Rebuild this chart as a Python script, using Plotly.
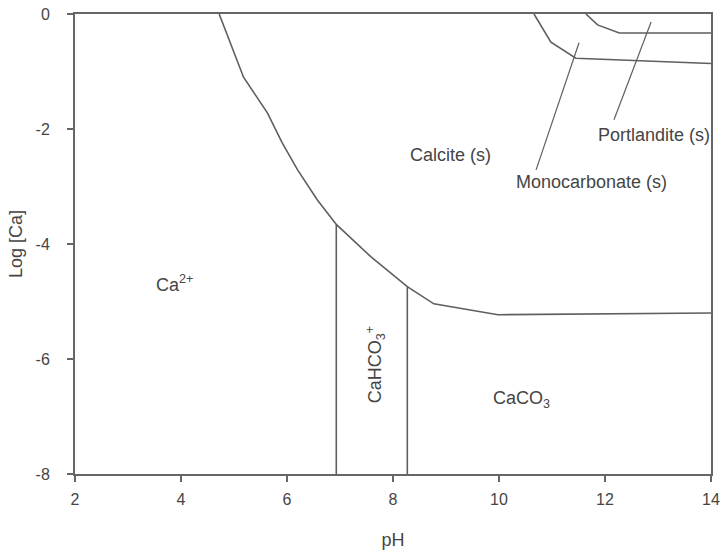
import plotly.graph_objects as go

# Predominance / solubility boundaries for Ca (pH vs log[Ca])
calcite_ph = [4.72, 4.99, 5.18, 5.63, 5.91, 6.20, 6.57, 6.93, 7.58, 8.27, 8.77, 9.98, 14.0]
calcite_logca = [0.0, -0.63, -1.10, -1.72, -2.24, -2.71, -3.23, -3.66, -4.22, -4.74, -5.04, -5.23, -5.20]

# Aqueous species boundaries (vertical lines)
ca_cahco3_ph = [6.93, 6.93]
ca_cahco3_logca = [-3.66, -8.0]
cahco3_caco3_ph = [8.27, 8.27]
cahco3_caco3_logca = [-4.74, -8.0]

# Monocarbonate (s) boundary
mono_ph = [10.66, 10.98, 11.45, 14.0]
mono_logca = [0.0, -0.49, -0.77, -0.86]

# Portlandite (s) boundary
port_ph = [11.64, 11.86, 12.27, 14.0]
port_logca = [0.0, -0.19, -0.33, -0.33]

# Leader lines from labels to fields
mono_leader_ph = [11.51, 10.70]
mono_leader_logca = [-0.50, -2.71]
port_leader_ph = [12.87, 12.17]
port_leader_logca = [-0.14, -1.84]

# Field labels
label_text = ["Calcite (s)", "Portlandite (s)", "Monocarbonate (s)", "Ca<sup>2+</sup>", "CaCO<sub>3</sub>"]
label_ph = [9.09, 12.93, 11.74, 3.87, 10.43]
label_logca = [-2.45, -2.10, -2.92, -4.68, -6.71]

cahco3_text = "CaHCO<sub>3</sub><sup>+</sup>"
cahco3_ph = 7.67
cahco3_logca = -6.1

x_ticks = [2, 4, 6, 8, 10, 12, 14]
x_tick_text = ["2", "4", "6", "8", "10", "12", "14"]
y_ticks = [0, -2, -4, -6, -8]
y_tick_text = ["0", "-2", "-4", "-6", "-8"]

line_col = "#5f5f5f"
text_col = "#454545"
font_family = "Liberation Sans, Arial, sans-serif"

fig = go.Figure()

def add_line(xs, ys, width=1.6):
    fig.add_trace(go.Scatter(x=xs, y=ys, mode="lines",
                             line=dict(color=line_col, width=width),
                             hoverinfo="skip", showlegend=False))

add_line(calcite_ph, calcite_logca)
add_line(ca_cahco3_ph, ca_cahco3_logca)
add_line(cahco3_caco3_ph, cahco3_caco3_logca)
add_line(mono_ph, mono_logca)
add_line(port_ph, port_logca)
add_line(mono_leader_ph, mono_leader_logca, 1.2)
add_line(port_leader_ph, port_leader_logca, 1.2)

for t, xv, yv in zip(label_text, label_ph, label_logca):
    fig.add_annotation(x=xv, y=yv, text=t, showarrow=False,
                       font=dict(family=font_family, size=18, color=text_col))

fig.add_annotation(x=cahco3_ph, y=cahco3_logca, text=cahco3_text, showarrow=False,
                   textangle=-90,
                   font=dict(family=font_family, size=18, color=text_col))

fig.update_layout(
    width=721, height=553,
    margin=dict(l=75, r=10, t=14, b=79),
    paper_bgcolor="white", plot_bgcolor="white",
    font=dict(family=font_family, size=16, color=text_col),
    xaxis=dict(range=[2, 14], tickvals=x_ticks, ticktext=x_tick_text,
               ticks="outside", ticklen=6, automargin=False,
               tickwidth=1.5, tickcolor="#666", showgrid=False, zeroline=False,
               showline=True, linecolor="#666", linewidth=2, mirror=True,
               ticklabelstandoff=4,
               title=dict(text="pH", font=dict(size=18), standoff=26),
               tickfont=dict(size=16)),
    yaxis=dict(range=[-8, 0], tickvals=y_ticks, ticktext=y_tick_text,
               ticks="outside", ticklen=6, automargin=False,
               tickwidth=1.5, tickcolor="#666", showgrid=False, zeroline=False,
               showline=True, linecolor="#666", linewidth=2, mirror=True,
               ticklabelstandoff=14,
               title=dict(text="Log [Ca]", font=dict(size=18), standoff=8),
               tickfont=dict(size=16)),
)

fig.write_html("out.html")
